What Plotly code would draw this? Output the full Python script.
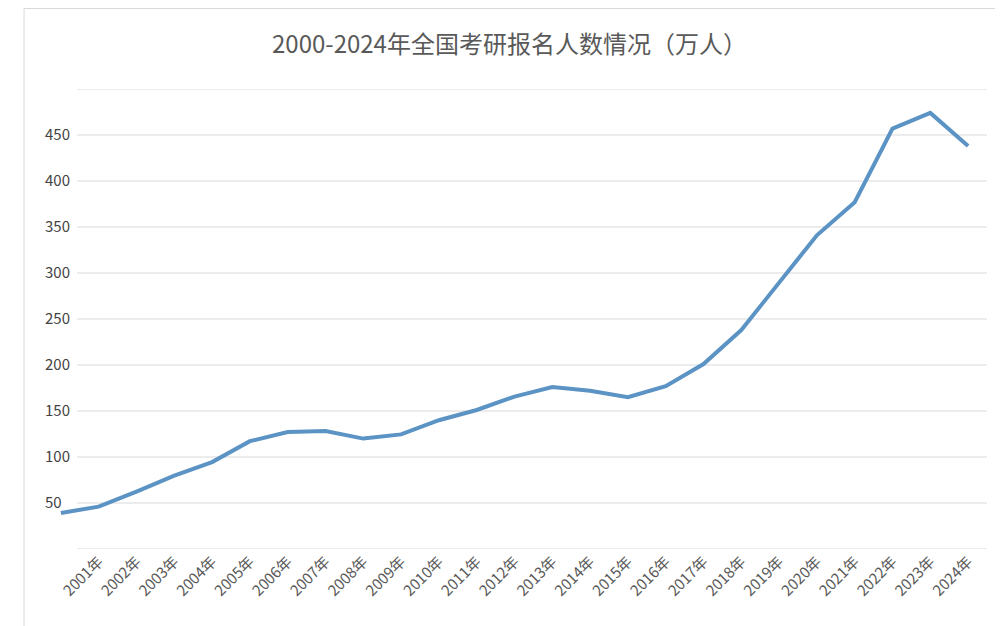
import plotly.graph_objects as go

years = [f"{y}年" for y in range(2000, 2025)]
applicants = [39.2, 46, 62.4, 79.7, 94.5, 117.2, 127.1, 128.2, 120, 124.6, 140, 151.1, 165.6,
              176, 172, 164.9, 177, 201, 238, 290, 341, 377, 457, 474, 438]
y_ticks = list(range(0, 501, 50))

fig = go.Figure(go.Scatter(
    x=years, y=applicants, mode='lines',
    line=dict(color='#5b93c4', width=4),
    hoverinfo='x+y'
))

# gridlines start a bit right of the axis, like the reference
grid = [dict(type='line', xref='paper', yref='y', x0=0.037, x1=1, y0=v, y1=v,
             line=dict(color='#d9d9d9', width=1), layer='below') for v in y_ticks]

fig.update_layout(
    title=dict(text='2000-2024年全国考研报名人数情况（万人）', x=0.5, y=0.955, xanchor='center',
               font=dict(size=24, color='#595959')),
    width=1003, height=626,
    margin=dict(l=21, r=24, t=81, b=85),
    font=dict(family='Noto Sans CJK SC', size=15, color='#595959'),
    plot_bgcolor='white', paper_bgcolor='white',
    showlegend=False,
    xaxis=dict(tickangle=-45, showgrid=False, showline=False, ticks='', range=[-0.5, 24.5]),
    yaxis=dict(range=[0, 500], tickvals=y_ticks, showgrid=False, zeroline=False, ticks='',
               ticklabelposition='inside', ticklabelstandoff=0),
    shapes=grid + [dict(type='rect', xref='paper', yref='paper', x0=-0.019, x1=1.022, y0=-0.19, y1=1.175,
                        line=dict(color='#d9d9d9', width=1))]
)

fig.write_html("out.html")
